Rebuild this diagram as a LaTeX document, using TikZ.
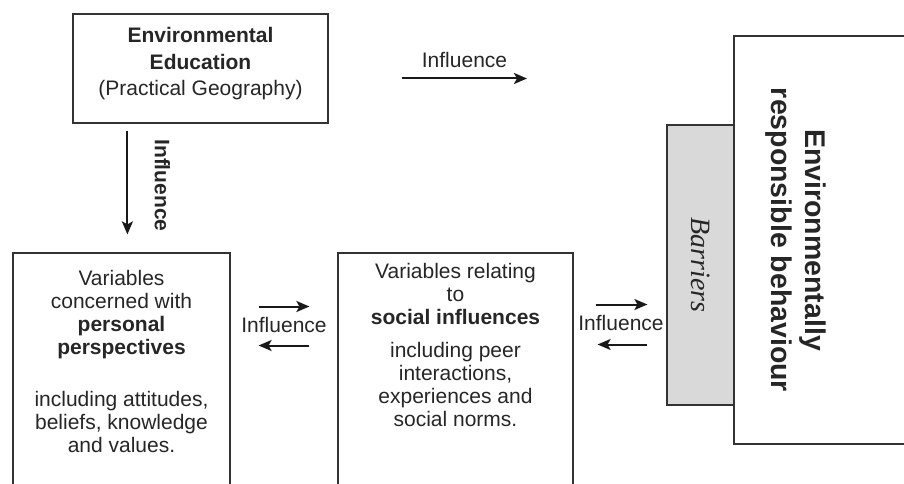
\documentclass[tikz,border=0pt]{standalone}
\usepackage{fontspec}
\setmainfont{Liberation Sans}
\newfontfamily\barrfont{Liberation Serif}
\usepackage{tikz}
\usetikzlibrary{arrows.meta,positioning}

\begin{document}
\begin{tikzpicture}[x=1pt,y=1pt,font=\fontsize{21}{23}\selectfont,text=black!85,
	box/.style={shape=rectangle,draw=black!80,line width=1.2pt,inner sep=0pt},
	arr/.style={-{Stealth[length=13pt,width=11pt,inset=3pt]},line width=2pt,draw=black!90}]
					\useasboundingbox (0,0) rectangle (904,483);
					\clip (0,0) rectangle (904,483);
					\node (envedu) [box,minimum width=255pt,minimum height=109pt] at (200.5,414.5) {};
					\node (envtext) [align=center,font=\fontsize{21}{26.5}\selectfont] at ([yshift=4.5pt]envedu.center) {
						\textbf{Environmental}\\
						\textbf{Education}\\
						(Practical Geography)
					};
					\node (pers) [box,minimum width=217pt,minimum height=267pt] at (121.5,96.5) {};
					\node (perstext) [align=center] [below=14pt of pers.north] {
						Variables\\
						concerned with\\
						\textbf{personal}\\
						\textbf{perspectives}\\[29pt]
						including attitudes,\\
						beliefs, knowledge\\
						and values.
					};
					\node (soc) [box,minimum width=235pt,minimum height=267pt] at (455.5,96.5) {};
					\node (soctext) [align=center] [below=7pt of soc.north] {
						Variables relating\\
						to\\
						\textbf{social influences}\\[10pt]
						including peer\\
						interactions,\\
						experiences and\\
						social norms.
					};
					\node (barr) [box,fill=black!15,minimum width=67pt,minimum height=280pt] at (700.5,218) {
						\rotatebox{-90}{\barrfont\itshape\fontsize{28}{30}\selectfont Barriers}
					};
					\node (erb) [box,minimum width=220pt,minimum height=408pt] at (844,243) {};
					\node (erbtext) [rotate=-90,align=center,font=\bfseries\fontsize{28.5}{34}\selectfont] at (796,243) {
						Environmentally\\
						responsible behaviour
					};
					\coordinate (topstart) at (402,404.5);
					\coordinate (topend) at (527,404.5);
					\node (infl) at (284,158) {Influence};
					\node (infr) at (621,160) {Influence};

					\draw[arr] (topstart) -- node[above=6pt] {Influence} (topend);
					\draw[arr,shorten <=7pt,shorten >=18pt] ([xshift=55pt]envedu.south west) --
						node[pos=0.48,xshift=35pt,rotate=-90,font=\bfseries\fontsize{21}{23}\selectfont] {Influence}
						([xshift=115pt]pers.north west);
					\draw[arr,shorten <=28pt,shorten >=28pt] ([yshift=80pt]pers.east) -- ([yshift=80pt]soc.west);
					\draw[arr,shorten <=28pt,shorten >=28pt] ([yshift=41pt]soc.west) -- ([yshift=41pt]pers.east);
					\draw[arr,shorten <=22pt,shorten >=19pt] ([yshift=82pt]soc.east) -- ([yshift=-39.5pt]barr.west);
					\draw[arr,shorten <=19pt,shorten >=24pt] ([yshift=-79.5pt]barr.west) -- ([yshift=42pt]soc.east);
				\end{tikzpicture}
\end{document}
